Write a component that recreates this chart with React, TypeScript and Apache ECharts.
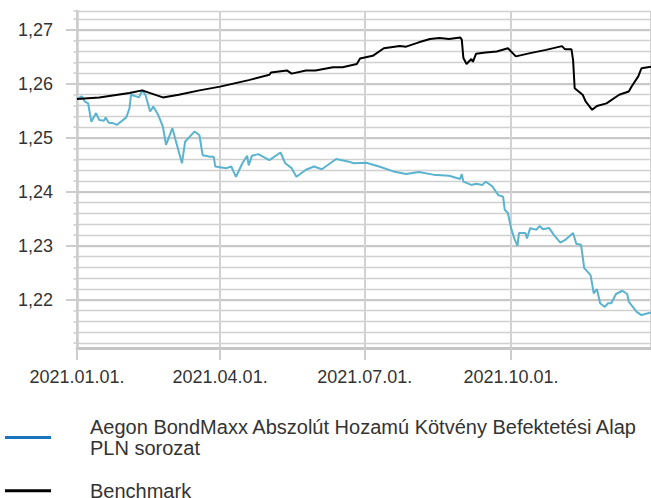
import React, { useEffect, useRef } from "react";
import * as echarts from "echarts";

const fundName = "Aegon BondMaxx Abszolút Hozamú Kötvény Befektetési Alap PLN sorozat";
const benchName = "Benchmark";

const fundDates = [
  "2021-01-01","2021-01-04","2021-01-06","2021-01-08","2021-01-10","2021-01-13","2021-01-15","2021-01-18",
  "2021-01-19","2021-01-21","2021-01-24","2021-01-26","2021-02-01","2021-02-03","2021-02-04","2021-02-07",
  "2021-02-09","2021-02-11","2021-02-13","2021-02-16","2021-02-18","2021-02-21","2021-02-24","2021-02-26",
  "2021-03-02","2021-03-04","2021-03-08","2021-03-10","2021-03-16","2021-03-19","2021-03-21","2021-03-26",
  "2021-03-28","2021-03-29","2021-04-05","2021-04-08","2021-04-11","2021-04-15","2021-04-18","2021-04-19",
  "2021-04-21","2021-04-25","2021-05-02","2021-05-09","2021-05-12","2021-05-16","2021-05-19","2021-05-25",
  "2021-05-30","2021-06-04","2021-06-13","2021-06-21","2021-06-24","2021-07-02","2021-07-10","2021-07-19",
  "2021-07-27","2021-08-04","2021-08-13","2021-08-23","2021-08-30","2021-08-31","2021-09-01","2021-09-06",
  "2021-09-09","2021-09-13","2021-09-15","2021-09-19","2021-09-23","2021-09-26","2021-09-27","2021-09-29",
  "2021-10-01","2021-10-03","2021-10-05","2021-10-06","2021-10-10","2021-10-11","2021-10-13","2021-10-17",
  "2021-10-19","2021-10-21","2021-10-25","2021-10-28","2021-11-01","2021-11-04","2021-11-09","2021-11-11",
  "2021-11-14","2021-11-16","2021-11-20","2021-11-22","2021-11-24","2021-11-26","2021-11-29","2021-12-01",
  "2021-12-03","2021-12-06","2021-12-10","2021-12-13","2021-12-14","2021-12-19","2021-12-22","2021-12-28"
];
const fundValues = [
  1.2572,1.2577,1.2567,1.2564,1.2530,1.2546,1.2533,1.2532,
  1.2538,1.2528,1.2527,1.2524,1.2538,1.2555,1.2580,1.2577,
  1.2575,1.2588,1.2580,1.2549,1.2558,1.2543,1.2521,1.2487,
  1.2518,1.2496,1.2453,1.2493,1.2512,1.2505,1.2468,1.2465,
  1.2465,1.2447,1.2444,1.2447,1.2428,1.2453,1.2467,1.2449,
  1.2467,1.2470,1.2459,1.2473,1.2453,1.2444,1.2428,1.2441,
  1.2447,1.2442,1.2461,1.2456,1.2453,1.2454,1.2447,1.2438,
  1.2433,1.2437,1.2432,1.2430,1.2424,1.2433,1.2419,1.2413,
  1.2415,1.2413,1.2419,1.2411,1.2394,1.2391,1.2367,1.2361,
  1.2333,1.2314,1.2300,1.2324,1.2324,1.2314,1.2333,1.2330,
  1.2337,1.2331,1.2333,1.2320,1.2306,1.2311,1.2324,1.2304,
  1.2302,1.2259,1.2246,1.2212,1.2220,1.2194,1.2187,1.2194,
  1.2194,1.2211,1.2217,1.2211,1.2197,1.2178,1.2172,1.2177
];

const benchDates = [
  "2021-01-01","2021-01-15","2021-02-03","2021-02-11","2021-02-17","2021-02-24","2021-03-06","2021-03-19",
  "2021-04-01","2021-04-19","2021-05-02","2021-05-03","2021-05-13","2021-05-16","2021-05-25","2021-05-31",
  "2021-06-11","2021-06-17","2021-06-26","2021-06-28","2021-07-06","2021-07-13","2021-07-23","2021-07-27",
  "2021-08-04","2021-08-11","2021-08-17","2021-08-23","2021-08-30","2021-08-31","2021-09-01","2021-09-03",
  "2021-09-06","2021-09-07","2021-09-09","2021-09-15","2021-09-22","2021-09-29","2021-10-04","2021-10-13",
  "2021-10-23","2021-11-02","2021-11-04","2021-11-08","2021-11-09","2021-11-10","2021-11-15","2021-11-17",
  "2021-11-21","2021-11-24","2021-11-30","2021-12-08","2021-12-14","2021-12-16","2021-12-20","2021-12-22",
  "2021-12-28"
];
const benchValues = [
  1.2572,1.2575,1.2583,1.2588,1.2582,1.2575,1.2580,1.2588,
  1.2595,1.2607,1.2617,1.2621,1.2625,1.2619,1.2625,1.2625,
  1.2631,1.2631,1.2637,1.2647,1.2652,1.2666,1.2670,1.2669,
  1.2677,1.2683,1.2685,1.2683,1.2686,1.2682,1.2648,1.2637,
  1.2646,1.2641,1.2656,1.2658,1.2660,1.2666,1.2651,1.2657,
  1.2663,1.2670,1.2664,1.2664,1.2644,1.2592,1.2580,1.2567,
  1.2552,1.2559,1.2564,1.2580,1.2586,1.2596,1.2614,1.2629,
  1.2632
];

const yMajorTicks = [1.22, 1.23, 1.24, 1.25, 1.26, 1.27];
const yMin = 1.2111;
const yMax = 1.2735;
// minor grid: starts on the first 0.002 step above yMin
const yMinorMin = 1.212;
const yMinorStep = 0.002;
const xMin = "2021-01-01";
const xMax = "2021-12-28";

const FONT = "Liberation Sans";

export default function App() {
  const ref = useRef<HTMLDivElement>(null);
  useEffect(() => {
    if (!ref.current) return;
    const chart = echarts.init(ref.current, undefined, { renderer: "svg" });
    const gridColor = "#cdcdcd";
    const plotTop = 11;
    const plotHeight = 337;
    const pxPerUnit = plotHeight / (yMax - yMin);
    const minorHeight = (yMax - yMinorMin) * pxPerUnit;
    chart.setOption({
      animation: false,
      backgroundColor: "#ffffff",
      grid: [
        { left: 77, top: plotTop, right: 0, height: plotHeight, containLabel: false },
        { left: 77, top: plotTop, right: 0, height: minorHeight, containLabel: false },
      ],
      xAxis: [
        {
          type: "time",
          gridIndex: 0,
          min: xMin,
          max: xMax,
          splitNumber: 4,
          z: 3,
          axisLine: { show: true, lineStyle: { color: "#c6c6c6", width: 3 } },
          axisTick: { show: true, length: 12, lineStyle: { color: gridColor, width: 2 } },
          splitLine: { show: true, lineStyle: { color: "#d2d2d2", width: 2 } },
          minorTick: { show: false },
          axisLabel: {
            fontFamily: FONT,
            fontSize: 18,
            color: "#333333",
            margin: 20,
            hideOverlap: false,
            formatter: (v: number) => echarts.time.format(v, "{yyyy}.{MM}.{dd}.", false),
          },
        },
        {
          type: "value",
          gridIndex: 1,
          min: 0,
          max: 1,
          show: false,
        },
      ],
      yAxis: [
        {
          type: "value",
          gridIndex: 0,
          min: yMin,
          max: yMax,
          position: "left",
          z: 3,
          axisLine: { show: true, lineStyle: { color: gridColor, width: 2.5 } },
          axisTick: { show: true, length: 11, customValues: yMajorTicks, lineStyle: { color: gridColor, width: 2 } },
          axisLabel: {
            customValues: yMajorTicks,
            fontFamily: FONT,
            fontSize: 18,
            color: "#333333",
            margin: 24,
            formatter: (v: number) => v.toFixed(2).replace(".", ","),
          },
          splitLine: { show: true, lineStyle: { color: "#c8c8c8", width: 1.8 } },
        },
        {
          type: "value",
          gridIndex: 1,
          min: yMinorMin,
          max: yMax,
          interval: yMinorStep,
          position: "left",
          axisLine: { show: false },
          axisTick: { show: true, length: 3.5, lineStyle: { color: gridColor, width: 1.5 } },
          axisLabel: { show: false },
          splitLine: { show: true, lineStyle: { color: "#d0d0d0", width: 1.3 } },
        },
      ],
      legend: {
        orient: "vertical",
        left: 0,
        top: 411,
        height: 120,
        itemWidth: 46,
        itemHeight: 3,
        itemGap: 21,
        icon: "rect",
        textStyle: {
          fontFamily: FONT,
          fontSize: 20,
          lineHeight: 21.5,
          color: "#333333",
          padding: [0, 0, 0, 34],
        },
        formatter: (name: string) => name.replace(" PLN", "\nPLN"),
        data: [
          { name: fundName, itemStyle: { color: "#1c74bb" } },
          { name: benchName, itemStyle: { color: "#000000" } },
        ],
      },
      series: [
        {
          name: "minor-grid",
          type: "line",
          xAxisIndex: 1,
          yAxisIndex: 1,
          data: [],
          silent: true,
        },
        {
          name: fundName,
          type: "line",
          xAxisIndex: 0,
          yAxisIndex: 0,
          showSymbol: false,
          symbol: "none",
          color: "#5bb4cf",
          lineStyle: { color: "#5bb4cf", width: 2 },
          data: fundDates.map((d, i) => [d, fundValues[i]]),
        },
        {
          name: benchName,
          type: "line",
          xAxisIndex: 0,
          yAxisIndex: 0,
          showSymbol: false,
          symbol: "none",
          color: "#000000",
          lineStyle: { color: "#000000", width: 2 },
          data: benchDates.map((d, i) => [d, benchValues[i]]),
        },
      ],
    });
    return () => chart.dispose();
  }, []);
  return (
    <div style={{ position: "fixed", left: 0, top: 0, width: 651, height: 498, overflow: "hidden", background: "#fff" }}>
      <div ref={ref} style={{ width: 651, height: 498 }} />
    </div>
  );
}
